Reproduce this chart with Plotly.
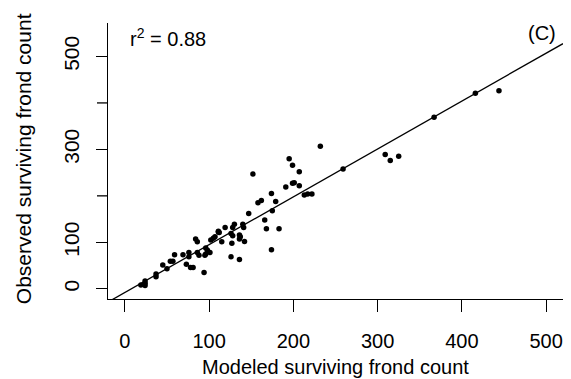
import plotly.graph_objects as go

# Modeled (x) vs observed (y) surviving frond counts
modeled = [444, 416, 367, 325, 315, 309, 259, 232,
           207, 199, 195, 199, 201, 191, 207, 213, 217, 222,
           174, 179, 158, 162, 175, 166, 168, 183, 174, 152, 147,
           140, 141, 130, 128, 119, 111, 112, 107, 105, 102, 115, 111,
           126, 128, 136, 136, 137, 142, 127, 126, 136,
           84, 86, 96, 98, 101, 86, 88, 96, 95,
           76, 76, 69, 73, 78, 81, 94,
           59, 57, 54, 45, 50, 37, 37, 24, 19, 24, 24]
observed = [426, 421, 369, 285, 276, 289, 258, 307,
            252, 266, 280, 227, 228, 219, 222, 202, 204, 204,
            205, 188, 185, 190, 168, 148, 129, 129, 84, 247, 162,
            139, 132, 139, 132, 132, 124, 121, 112, 109, 105, 101, 122,
            119, 114, 116, 107, 112, 102, 98, 69, 63,
            107, 101, 88, 83, 78, 78, 72, 75, 72,
            78, 69, 73, 53, 46, 46, 35,
            73, 59, 59, 51, 43, 32, 26, 17, 8, 7, 12]

# Fitted line parameters and drawing extent
fit_intercept = -8.0
fit_slope = 1.03
line_x = [-20, 520]
line_y = [fit_intercept + fit_slope * v for v in line_x]

x_ticks = [0, 100, 200, 300, 400, 500]
y_labeled_ticks = [0, 100, 300, 500]
y_unlabeled_ticks = [200, 400]

X_RANGE = [-20, 520]
Y_RANGE = [-22, 572]

FONT = "Liberation Sans, Arial, Helvetica, sans-serif"
PLOT_W = 571 - 108 - 8
Y_TICKLEN = 11

fig = go.Figure()
fig.add_trace(go.Scatter(x=modeled, y=observed, mode="markers",
                         marker=dict(color="black", size=5.5),
                         showlegend=False))
fig.add_trace(go.Scatter(x=line_x, y=line_y, mode="lines",
                         line=dict(color="black", width=1.3),
                         hoverinfo="skip", showlegend=False))

# unlabeled y ticks (R drops the overlapping 200 and 400 labels)
shapes = [dict(type="line", xref="paper", yref="y",
               x0=-Y_TICKLEN / PLOT_W, x1=0, y0=v, y1=v,
               line=dict(color="black", width=1.3), layer="above")
          for v in y_unlabeled_ticks]

fig.update_layout(
    width=571, height=379,
    margin=dict(l=108, r=8, t=23, b=80, autoexpand=False),
    plot_bgcolor="white", paper_bgcolor="white",
    font=dict(family=FONT, size=20, color="black"),
    xaxis=dict(range=X_RANGE, tickvals=x_ticks, showgrid=False, zeroline=False,
               showline=True, linecolor="black", linewidth=1.3,
               ticks="outside", ticklen=12, tickwidth=1.3, tickcolor="black",
               tickfont=dict(size=20), ticklabelstandoff=12, automargin=False),
    yaxis=dict(range=Y_RANGE, tickvals=y_labeled_ticks,
               showgrid=False, zeroline=False,
               showline=True, linecolor="black", linewidth=1.3,
               ticks="outside", ticklen=Y_TICKLEN, tickwidth=1.3, tickcolor="black",
               tickangle=-90, tickfont=dict(size=21), ticklabelstandoff=8,
               automargin=False),
    shapes=shapes,
    annotations=[
        dict(text="r<sup>2</sup> = 0.88", xref="paper", yref="paper",
             x=0.044, y=0.946, xanchor="left", yanchor="middle",
             showarrow=False, font=dict(size=20)),
        dict(text="(C)", xref="paper", yref="paper",
             x=0.99, y=0.965, xanchor="right", yanchor="middle",
             showarrow=False, font=dict(size=20)),
        dict(text="Modeled surviving frond count", xref="paper", yref="paper",
             x=0.501, y=-0.246, xanchor="center", yanchor="middle",
             showarrow=False, font=dict(size=20)),
        dict(text="Observed surviving frond count", xref="paper", yref="paper",
             x=-0.187, y=0.51, xanchor="center", yanchor="middle",
             textangle=-90, showarrow=False, font=dict(size=21)),
    ],
)

fig.write_html("out.html")
